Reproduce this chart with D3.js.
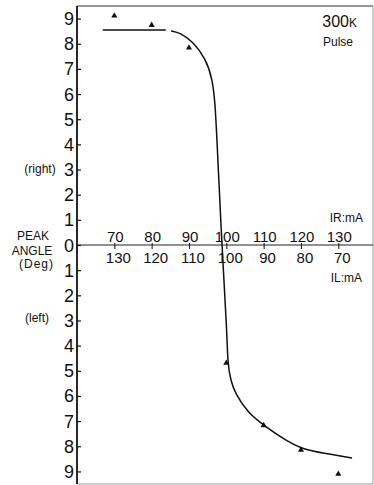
<!DOCTYPE html>
<html>
<head>
<meta charset="utf-8">
<script src="https://cdn.jsdelivr.net/npm/d3@7"></script>
<style>
  body { margin: 0; background: #fff; }
  svg { display: block; font-family: "Liberation Sans", Arial, sans-serif; }
</style>
</head>
<body>
<div id="chart"></div>
<script>
// peak angle vs. current, 300K pulse
var degTicks = [-9, -8, -7, -6, -5, -4, -3, -2, -1, 0, 1, 2, 3, 4, 5, 6, 7, 8, 9];
var irTicks = [70, 80, 90, 100, 110, 120, 130];
var ilTicks = [130, 120, 110, 100, 90, 80, 70];

// measured points (triangles)
var rightIR = [70, 80, 90];
var rightDeg = [9.11, 8.74, 7.84];
var leftIL = [100, 90, 80, 70];
var leftDeg = [-4.69, -7.17, -8.15, -9.10];

// flat fitted segment
var flatIR = [66.9, 83.8];
var flatDeg = [8.55, 8.55];

// fitted curve, right branch (IR) then left branch (IL)
var curveIR = [85.2, 87.6, 91.1, 94.5, 96.3, 97.0, 97.4, 98.8];
var curveRDeg = [8.51, 8.44, 8.08, 7.4, 6.6, 5.6, 4.5, 0];
var curveIL = [99.8, 99.65, 98.8, 97.6, 94.2, 89.6, 84.8, 79.7, 73.6, 66.3];
var curveLDeg = [-3.5, -4.69, -5.4, -5.9, -6.68, -7.2, -7.7, -8.12, -8.28, -8.47];

(function() {
  var width = 374, height = 485;
  var svg = d3.select('#chart').append('svg').attr('width', width).attr('height', height);

  var pl = 77, pr = 373, pt = 6, pb = 484;
  var xR = d3.scaleLinear().domain([60, 139.3]).range([pl, pr]);
  var xL = d3.scaleLinear().domain([140, 60.7]).range([pl, pr]);
  var y = d3.scaleLinear().domain([-9.5, 9.5]).range([pb, pt]);

  // frame
  svg.append('line').attr('x1', pl).attr('x2', pr).attr('y1', pt).attr('y2', pt)
    .attr('stroke', '#333').attr('stroke-width', 1.2);
  svg.append('line').attr('x1', pr).attr('x2', pr).attr('y1', pt).attr('y2', pb)
    .attr('stroke', '#999').attr('stroke-width', 1);
  svg.append('line').attr('x1', pl).attr('x2', pr).attr('y1', pb).attr('y2', pb)
    .attr('stroke', '#999').attr('stroke-width', 1);

  // y axis
  var yAxis = d3.axisRight(y).tickValues(degTicks).tickSize(4).tickFormat('');
  var gy = svg.append('g').attr('transform', 'translate(' + pl + ',0)').call(yAxis);
  gy.select('.domain').remove();
  gy.selectAll('.tick line').attr('stroke', '#111').attr('stroke-width', 1.2);
  svg.append('line').attr('x1', pl).attr('x2', pl).attr('y1', pt).attr('y2', pb)
    .attr('stroke', '#111').attr('stroke-width', 1.8);

  svg.append('g').selectAll('text').data(degTicks).join('text')
    .attr('x', 74).attr('y', function(d) { return y(d) + 6.5; })
    .attr('text-anchor', 'end').attr('font-size', 18).attr('fill', '#111')
    .text(function(d) { return Math.abs(d); });

  // x axis at zero
  var y0 = y(0);
  svg.append('line').attr('x1', pl).attr('x2', pr).attr('y1', y0).attr('y2', y0)
    .attr('stroke', '#222').attr('stroke-width', 1);

  var gxt = svg.append('g').attr('transform', 'translate(0,' + (y0 + 4) + ')')
    .call(d3.axisTop(xR).tickValues(irTicks).tickSize(6).tickFormat(''));
  gxt.select('.domain').remove();
  gxt.selectAll('.tick line').attr('stroke', '#222').attr('stroke-width', 1.1);

  svg.append('g').selectAll('text').data(irTicks).join('text')
    .attr('x', function(d) { return xR(d) + 1; }).attr('y', y0 - 3)
    .attr('text-anchor', 'middle').attr('font-size', 15).attr('fill', '#111')
    .text(function(d) { return d; });

  svg.append('g').selectAll('text').data(ilTicks).join('text')
    .attr('x', function(d) { return xL(d) + 4; }).attr('y', y0 + 18)
    .attr('text-anchor', 'middle').attr('font-size', 15).attr('fill', '#111')
    .text(function(d) { return d; });

  // fitted lines
  var line = d3.line().x(function(d) { return d[0]; }).y(function(d) { return d[1]; });
  var flatPts = flatIR.map(function(v, i) { return [xR(v), y(flatDeg[i])]; });
  svg.append('path').attr('d', line(flatPts)).attr('fill', 'none')
    .attr('stroke', '#111').attr('stroke-width', 1.5);

  var curvePts = curveIR.map(function(v, i) { return [xR(v), y(curveRDeg[i])]; })
    .concat(curveIL.map(function(v, i) { return [xL(v), y(curveLDeg[i])]; }));
  svg.append('path').attr('d', line.curve(d3.curveBasis)(curvePts))
    .attr('fill', 'none').attr('stroke', '#111').attr('stroke-width', 1.5);

  // triangles
  var tri = d3.symbol().type(d3.symbolTriangle).size(16);
  var pts = rightIR.map(function(v, i) { return [xR(v), y(rightDeg[i])]; })
    .concat(leftIL.map(function(v, i) { return [xL(v), y(leftDeg[i])]; }));
  svg.append('g').selectAll('path').data(pts).join('path')
    .attr('d', tri).attr('fill', '#111')
    .attr('transform', function(d) { return 'translate(' + d[0] + ',' + d[1] + ')'; });

  // labels
  function label(txt, x, yy, size, anchor, spacing) {
    return svg.append('text').attr('x', x).attr('y', yy).attr('font-size', size)
      .attr('text-anchor', anchor || 'middle').attr('fill', '#111')
      .attr('letter-spacing', spacing || 0).text(txt);
  }
  label('PEAK', 33, 240, 12);
  label('ANGLE', 32, 254.5, 12);
  label('(Deg)', 36.5, 268, 12, 'middle', 1);
  label('(right)', 40, 173, 12);
  label('(left)', 37, 322, 12);
  label('Pulse', 323, 46, 12, 'start');
  label('IR:mA', 363, 222, 12, 'end');
  label('IL:mA', 362, 282, 12, 'end');

  var t = svg.append('text').attr('x', 357).attr('y', 27).attr('text-anchor', 'end')
    .attr('font-size', 16).attr('fill', '#111');
  t.append('tspan').text('300');
  t.append('tspan').attr('font-size', 12).text('K');
})();
</script>
</body>
</html>
